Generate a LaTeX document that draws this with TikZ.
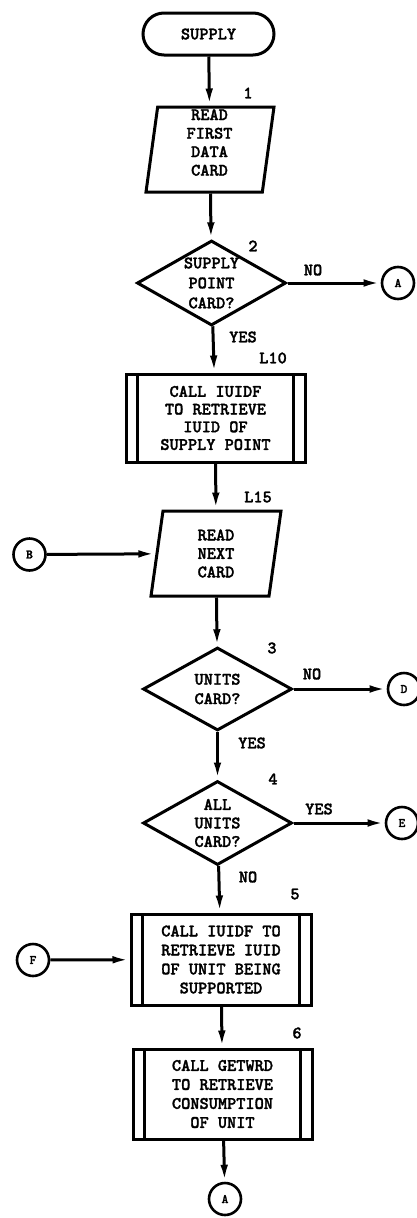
\documentclass[tikz,border=0pt]{standalone}
\usepackage{fontspec}
\newfontfamily\flowfont{lmmonolt10-bold.otf}[FakeBold=1.6]
\usetikzlibrary{shapes.geometric,arrows.meta}
\tikzset{
  txt/.style={font=\flowfont\fontsize{17.5}{#1}\selectfont, align=center},
  txt/.default=18.5,
  flow/.style={line width=3pt, -{Latex[length=17pt,width=7.5pt]}},
  term/.style={draw, line width=3pt, rounded corners=21pt, minimum width=131pt,
    minimum height=42pt, inner sep=0pt, txt},
  io/.style={draw, line width=3pt, trapezium, trapezium stretches body,
    minimum height=85pt, inner sep=0pt, txt},
  decision/.style={draw, line width=3pt, diamond, aspect=1.75, minimum width=149pt,
    inner sep=0pt},
  proc/.style={draw, line width=3pt, rectangle, inner sep=0pt,
    path picture={
      \draw[line width=2.6pt]
        ([xshift=11.5pt]path picture bounding box.north west) --
        ([xshift=11.5pt]path picture bounding box.south west)
        ([xshift=-11.5pt]path picture bounding box.north east) --
        ([xshift=-11.5pt]path picture bounding box.south east);}},
  conn/.style={draw, circle, line width=2.6pt, minimum size=32pt, inner sep=0pt,
    font=\flowfont\fontsize{13}{15}\selectfont},
  tag/.style={inner sep=0pt, txt}
}
\begin{document}
\begin{tikzpicture}[x=1pt,y=-1pt]
\useasboundingbox (0,0) rectangle (416,1218);
\fill[white] (0,0) rectangle (416,1218);

% main column
\node[term] (start) at (208.5,34) {SUPPLY};
\node[io, trapezium left angle=79, trapezium right angle=101, minimum width=128pt]
  (read1) at (210,149.5) {\rule[-30pt]{0pt}{60pt}};
\node[tag=15.3] (read1txt) at (209.5,142.5) {READ\\FIRST\\DATA\\CARD};
\node[decision, minimum height=85pt, txt=20] (spq) at (211.5,283) {SUPPLY\\POINT\\CARD?};
\node[proc, minimum width=179pt, minimum height=88pt, txt=17.7] (iuid1) at (215.5,418)
  {CALL IUIDF\\TO RETRIEVE\\IUID OF\\SUPPLY POINT};
\node[io, trapezium left angle=76, trapezium right angle=104, minimum width=130pt, txt=18.5]
  (read2) at (216,553.5) {READ\\NEXT\\CARD};
\node[decision, minimum height=83pt, txt=19.5] (units) at (217.5,689) {UNITS\\CARD?};
\node[decision, minimum height=84pt, txt=18.5] (allunits) at (217.5,823) {ALL\\UNITS\\CARD?};
\node[proc, minimum width=180pt, minimum height=91pt, txt=19] (iuid2) at (221,959.5)
  {CALL IUIDF TO\\RETRIEVE IUID\\OF UNIT BEING\\SUPPORTED};
\node[proc, minimum width=179pt, minimum height=90pt, txt=19] (getwrd) at (222.5,1094)
  {CALL GETWRD\\TO RETRIEVE\\CONSUMPTION\\OF UNIT};

% off-page connectors
\node[conn] (A1) at (398,283) {A};
\node[conn] (B) at (29.5,554.5) {B};
\node[conn] (D) at (404,689) {D};
\node[conn] (E) at (402,823) {E};
\node[conn] (F) at (33,960) {F};
\node[conn] (A2) at (225,1199) {A};

% step numbers and branch labels
\node[tag] (n1) at (248,93) {1};
\node[tag] (n2) at (253,246) {2};
\node[tag] (nL10) at (273,358) {L10};
\node[tag] (nL15) at (258,497) {L15};
\node[tag] (n3) at (272,648) {3};
\node[tag] (n4) at (273,779) {4};
\node[tag] (n5) at (295,894) {5};
\node[tag] (n6) at (297,1033) {6};
\node[tag] (no2) at (313,270) {NO};
\node[tag] (yes2) at (243,337) {YES};
\node[tag] (no3) at (312,674) {NO};
\node[tag] (yes3) at (252,743) {YES};
\node[tag] (yes4) at (319,809) {YES};
\node[tag] (no4) at (248,877) {NO};

% flow lines
\draw[flow] (start) -- (read1);
\draw[flow] (read1) -- (spq);
\draw[flow] (spq) -- (iuid1);
\draw[flow] (spq) -- (A1);
\draw[flow] (iuid1) -- (read2);
\draw[flow] (B) -- (read2);
\draw[flow] (read2) -- (units);
\draw[flow] (units) -- (D);
\draw[flow] (units) -- (allunits);
\draw[flow] (allunits) -- (E);
\draw[flow] (allunits) -- (iuid2);
\draw[flow] (F) -- (iuid2);
\draw[flow] (iuid2) -- (getwrd);
\draw[flow] (getwrd) -- (A2);
\end{tikzpicture}
\end{document}
